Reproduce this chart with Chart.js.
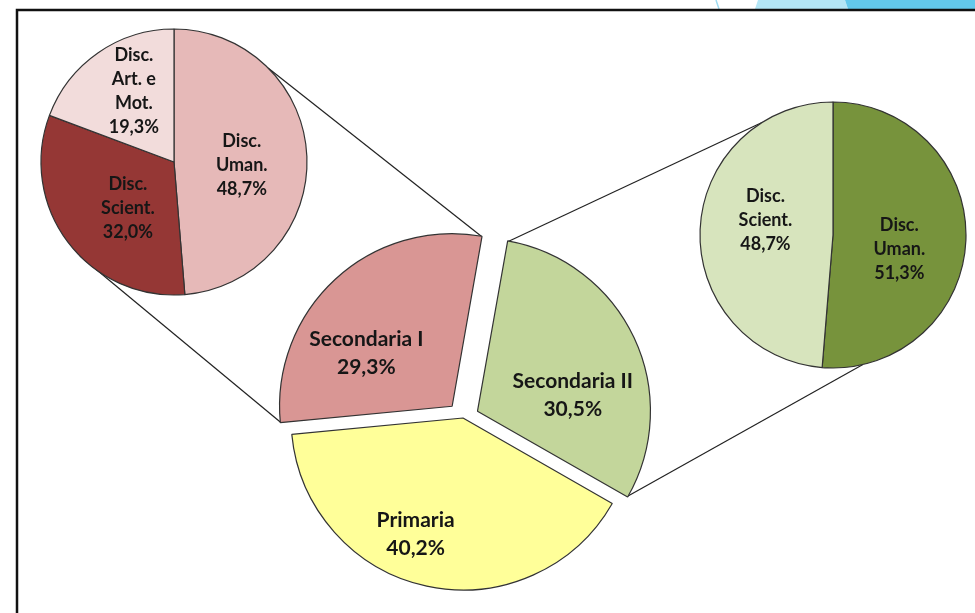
<!DOCTYPE html>
<html>
<head>
<meta charset="utf-8">
<script src="https://cdn.jsdelivr.net/npm/chart.js@4.4.1/dist/chart.umd.min.js"></script>
<style>
  html, body { margin: 0; padding: 0; background: #fff; }
  #wrap { position: relative; width: 975px; height: 613px; overflow: hidden; }
  #wrap canvas { position: absolute; left: 0; top: 0; width: 975px; height: 613px; }
</style>
</head>
<body>
<div id="wrap">
  <canvas id="main_chart" width="975" height="613"></canvas>
  <canvas id="sec1_chart" width="975" height="613"></canvas>
  <canvas id="sec2_chart" width="975" height="613"></canvas>
</div>
<script>
// -- DATA -- //
const main_labels = ["Secondaria II", "Primaria", "Secondaria I"];
const main_values = [30.5, 40.2, 29.3];

const sec1_labels = [["Disc.", "Uman."], ["Disc.", "Scient."], ["Disc.", "Art. e", "Mot."]];
const sec1_values = [48.7, 32.0, 19.3];

const sec2_labels = [["Disc.", "Uman."], ["Disc.", "Scient."]];
const sec2_values = [51.3, 48.7];

// -- LAYOUT / STYLE -- //
const W = 975, H = 613;
const main_pos = { cx: 463, cy: 418, r: 172, rotation: 10 };
const sec1_pos = { cx: 174, cy: 162, r: 133, rotation: 0 };
const sec2_pos = { cx: 833, cy: 235, r: 133, rotation: 0 };

const main_colors = ["#C3D69B", "#FFFF99", "#D99694"];
const sec1_colors = ["#E6B9B8", "#953735", "#F2DCDB"];
const sec2_colors = ["#77933C", "#D7E4BD"];
const main_offsets = [64, 0, 64];   // chart.js divides offset by 4

// label placement: turn (deg) from slice mid angle, fraction of radius
const main_place = [{ turn: 16, frac: 0.556 }, { turn: 10, frac: 0.73 }, { turn: -15.5, frac: 0.584 }];
const sec1_place = [{ turn: 4.8, frac: 0.51 }, { turn: -7.9, frac: 0.49 }, { turn: 5.1, frac: 0.61 }];
const sec2_place = [{ turn: 9.7, frac: 0.51 }, { turn: 10.1, frac: 0.52 }];

const FONT = "Lato";

// -- HELPERS -- //
function PadFor(pos) {
    let l = 0, r = 0, t = 0, b = 0;
    if (pos.cx * 2 < W) { r = W - 2 * pos.cx; } else { l = 2 * pos.cx - W; }
    if (pos.cy * 2 < H) { b = H - 2 * pos.cy; } else { t = 2 * pos.cy - H; }
    return { left: l, right: r, top: t, bottom: b };
}

function PctText(v) {
    return v.toFixed(1).replace(".", ",") + "%";
}

// same shift chart.js applies to an exploded arc
function ExplodeShift(arc) {
    const off = (arc.options.offset || 0) / 4;
    const circ = arc.endAngle - arc.startAngle;
    const fix = 1 - Math.sin(Math.min(Math.PI, circ));
    const d = off + off * fix;
    const mid = (arc.startAngle + arc.endAngle) / 2;
    return { x: Math.cos(mid) * d, y: Math.sin(mid) * d };
}

function DegToCanvas(deg) {
    return (deg - 90) * Math.PI / 180;
}

const slice_labels = {
    id: "slice_labels",
    afterDatasetsDraw(chart, args, opts) {
        const ctx = chart.ctx;
        const meta = chart.getDatasetMeta(0);
        const ds = chart.data.datasets[0];
        ctx.save();
        ctx.font = "bold " + opts.size + "px " + FONT;
        ctx.fillStyle = "#161616";
        ctx.textAlign = "center";
        ctx.textBaseline = "middle";
        meta.data.forEach(function (arc, i) {
            const sh = ExplodeShift(arc);
            const p = opts.place[i];
            const a = (arc.startAngle + arc.endAngle) / 2 + p.turn * Math.PI / 180;
            const rr = arc.outerRadius * p.frac;
            const x = arc.x + sh.x + Math.cos(a) * rr;
            const y = arc.y + sh.y + Math.sin(a) * rr;
            const lines = [].concat(chart.data.labels[i], PctText(ds.data[i]));
            const y0 = y - (lines.length - 1) * opts.lineHeight / 2;
            lines.forEach(function (s, k) { ctx.fillText(s, x, y0 + k * opts.lineHeight); });
        });
        ctx.restore();
    }
};

function MakePie(id, labels, values, colors, pos, place, size, lh, offsets) {
    const ctx = document.getElementById(id).getContext("2d");
    return new Chart(ctx, {
        type: "pie",
        data: {
            labels: labels,
            datasets: [{
                data: values,
                backgroundColor: colors,
                borderColor: "#333",
                borderWidth: 1.2,
                offset: offsets || 0
            }]
        },
        options: {
            responsive: false,
            animation: false,
            events: [],
            devicePixelRatio: 1,
            radius: pos.r,
            rotation: pos.rotation,
            layout: { padding: PadFor(pos) },
            plugins: {
                legend: { display: false },
                tooltip: { enabled: false },
                slice_labels: { place: place, size: size, lineHeight: lh }
            }
        },
        plugins: [slice_labels]
    });
}

// -- CHARTS -- //
const sec1_chart = MakePie("sec1_chart", sec1_labels, sec1_values, sec1_colors, sec1_pos, sec1_place, 18, 24);
const sec2_chart = MakePie("sec2_chart", sec2_labels, sec2_values, sec2_colors, sec2_pos, sec2_place, 18, 24);

// which corner of which main slice goes to which point of a sub pie
const links = [
    { slice: 2, edge: "start", sub: sec1_chart, deg: 225 },
    { slice: 2, edge: "end", sub: sec1_chart, deg: 45 },
    { slice: 0, edge: "start", sub: sec2_chart, deg: 328 },
    { slice: 0, edge: "end", sub: sec2_chart, deg: 167 }
];

const backdrop = {
    id: "backdrop",
    beforeDraw(chart) {
        const ctx = chart.ctx;
        ctx.save();
        ctx.fillStyle = "#fff";
        ctx.fillRect(0, 0, W, H);
        // slide decoration top right
        ctx.fillStyle = "#B4E6F6";
        ctx.beginPath();
        ctx.moveTo(758, 0); ctx.lineTo(845, 0); ctx.lineTo(848, 9); ctx.lineTo(755, 9);
        ctx.closePath(); ctx.fill();
        ctx.fillStyle = "#63C9EC";
        ctx.beginPath();
        ctx.moveTo(845, 0); ctx.lineTo(W, 0); ctx.lineTo(W, 9); ctx.lineTo(848, 9);
        ctx.closePath(); ctx.fill();
        ctx.strokeStyle = "#9FDCF2";
        ctx.lineWidth = 1.5;
        ctx.beginPath(); ctx.moveTo(716, 0); ctx.lineTo(719, 9); ctx.stroke();
        // frame
        ctx.strokeStyle = "#111";
        ctx.lineWidth = 2.5;
        ctx.beginPath();
        ctx.moveTo(17, H); ctx.lineTo(17, 10); ctx.lineTo(W, 10);
        ctx.stroke();
        ctx.restore();
    },
    beforeDatasetsDraw(chart) {
        const ctx = chart.ctx;
        const arcs = chart.getDatasetMeta(0).data;
        ctx.save();
        ctx.strokeStyle = "#222";
        ctx.lineWidth = 1.2;
        links.forEach(function (lk) {
            const arc = arcs[lk.slice];
            const sh = ExplodeShift(arc);
            const ang = lk.edge === "start" ? arc.startAngle : arc.endAngle;
            const x0 = arc.x + sh.x + Math.cos(ang) * arc.outerRadius;
            const y0 = arc.y + sh.y + Math.sin(ang) * arc.outerRadius;
            const sa = lk.sub.getDatasetMeta(0).data[0];
            const b = DegToCanvas(lk.deg);
            const x1 = sa.x + Math.cos(b) * sa.outerRadius;
            const y1 = sa.y + Math.sin(b) * sa.outerRadius;
            ctx.beginPath();
            ctx.moveTo(x0, y0);
            ctx.lineTo(x1, y1);
            ctx.stroke();
        });
        ctx.restore();
    }
};

const main_ctx = document.getElementById("main_chart").getContext("2d");
const main_chart = new Chart(main_ctx, {
    type: "pie",
    data: {
        labels: main_labels,
        datasets: [{
            data: main_values,
            backgroundColor: main_colors,
            borderColor: "#333",
            borderWidth: 1.2,
            offset: main_offsets
        }]
    },
    options: {
        responsive: false,
        animation: false,
        events: [],
        devicePixelRatio: 1,
        radius: main_pos.r,
        rotation: main_pos.rotation,
        layout: { padding: PadFor(main_pos) },
        plugins: {
            legend: { display: false },
            tooltip: { enabled: false },
            slice_labels: { place: main_place, size: 21, lineHeight: 28 }
        }
    },
    plugins: [backdrop, slice_labels]
});
</script>
</body>
</html>
